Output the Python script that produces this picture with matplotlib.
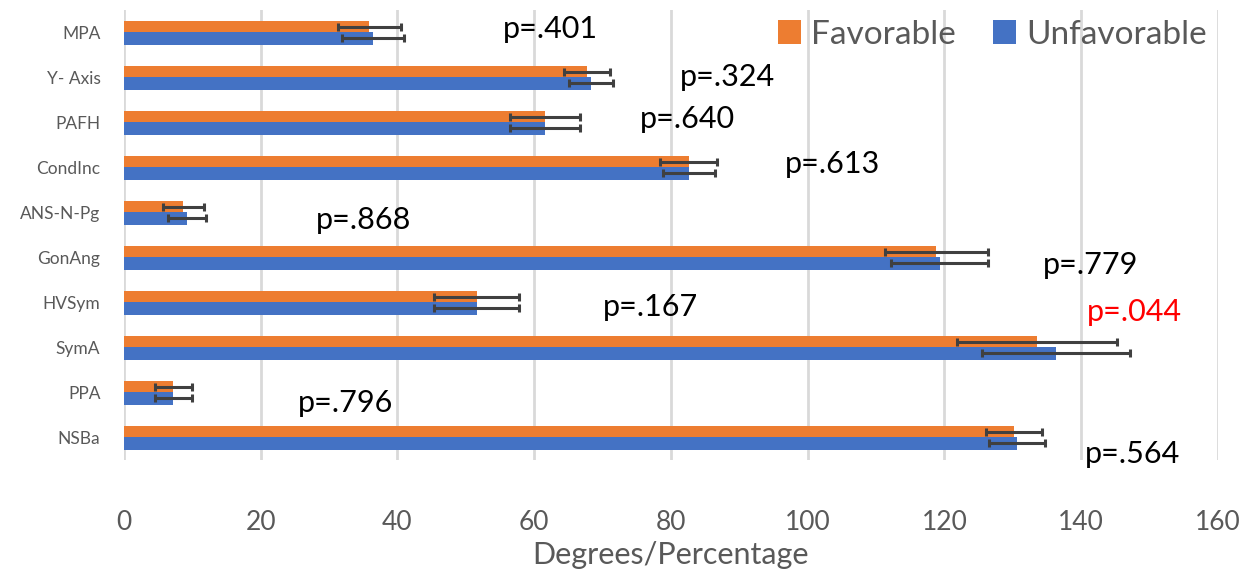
import numpy as np
import matplotlib.pyplot as plt

## Donnees

categories = ["MPA", "Y- Axis", "PAFH", "CondInc", "ANS-N-Pg", "GonAng",
              "HVSym", "SymA", "PPA", "NSBa"]
favorable = [35.9, 67.7, 61.6, 82.6, 8.7, 118.8, 51.6, 133.5, 7.2, 130.2]
fav_err = [4.6, 3.4, 5.1, 4.2, 3.0, 7.5, 6.2, 11.7, 2.7, 4.1]
unfavorable = [36.4, 68.3, 61.6, 82.6, 9.2, 119.3, 51.6, 136.3, 7.2, 130.6]
unfav_err = [4.5, 3.2, 5.1, 3.8, 2.8, 7.1, 6.2, 10.8, 2.7, 4.1]

p_labels = ["p=.401", "p=.324", "p=.640", "p=.613", "p=.868", "p=.779",
            "p=.167", "p=.044", "p=.796", "p=.564"]
p_x = [55.4, 81.3, 75.5, 96.7, 28.1, 134.4, 70.0, 140.8, 25.4, 140.5]
p_y = [-0.07, 0.98, 1.93, 2.93, 4.16, 5.16, 6.09, 6.2, 8.24, 9.36]
p_colors = ["black", "black", "black", "black", "black", "black", "black",
            "red", "black", "black"]

## Trace

plt.rcParams['font.family'] = ['Lato', 'DejaVu Sans']
orange = "#ED7D31"
blue = "#4472C4"
grey = "#595959"

fig = plt.figure(figsize=(12.55, 5.75), dpi=100)
ax = fig.add_axes([0.0988, 0.2, 0.8717, 0.7826])

y = np.arange(len(categories))
ekw = dict(ecolor="#404040", elinewidth=2.2, capsize=3, capthick=2.2)
ax.barh(y - 0.13, favorable, height=0.23, color=orange, label="Favorable",
        xerr=fav_err, error_kw=ekw, zorder=3)
ax.barh(y + 0.125, unfavorable, height=0.29, color=blue, label="Unfavorable",
        xerr=unfav_err, error_kw=ekw, zorder=3)

for lab, xx, yy, c in zip(p_labels, p_x, p_y, p_colors):
    ax.text(xx, yy, lab, fontsize=22, color=c, va="center", ha="left", zorder=4)

ax.set_xlim(0, 160)
ax.set_ylim(9.5, -0.5)
ax.set_xticks(np.arange(0, 161, 20))
ax.set_yticks(y)
ax.set_yticklabels(categories, fontsize=12.5, color=grey)
ax.tick_params(axis="x", labelsize=19, labelcolor=grey, length=0, pad=36)
ax.tick_params(axis="y", length=0, pad=17)
ax.xaxis.grid(True, color="#d9d9d9", linewidth=2)
ax.set_axisbelow(True)
for s in ax.spines.values():
    s.set_visible(False)
ax.set_xlabel("Degrees/Percentage", fontsize=22, color=grey)
ax.xaxis.set_label_coords(0.5, -0.18)

ax.legend(loc="upper right", bbox_to_anchor=(1.017, 1.045), ncol=2, frameon=False,
          fontsize=24, labelcolor=grey, handlelength=0.7, handleheight=0.7,
          handletextpad=0.3, columnspacing=1.1)

plt.savefig("out.png", dpi=100)
